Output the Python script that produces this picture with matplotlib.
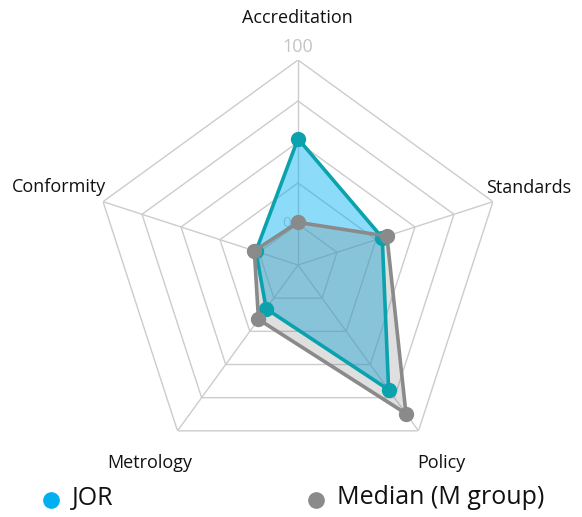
import numpy as np
import matplotlib
matplotlib.use("Agg")
import matplotlib.pyplot as plt

# Indicator scores on a -25..100 radial scale
categories = ["Accreditation", "Standards", "Policy", "Metrology", "Conformity"]
jor_values = [52, 29, 69, 8, 2]
median_values = [1, 32, 87, 16, 3]
ring_levels = [0, 25, 50, 75, 100]
r_min, r_max = -25, 100

plt.rcParams["font.family"] = ["Open Sans", "DejaVu Sans"]

W, H = 582, 517
fig = plt.figure(figsize=(W / 100, H / 100), dpi=100)
fig.patch.set_facecolor("white")

cx, cy, R = 298, 265, 205
ax = fig.add_axes([(cx - R) / W, (H - cy - R) / H, 2 * R / W, 2 * R / H],
                  projection="polar")
ax.set_theta_offset(np.pi / 2)
ax.set_theta_direction(-1)
ax.set_ylim(r_min, r_max)
ax.grid(False)
ax.spines["polar"].set_visible(False)
ax.set_xticks([])
ax.set_yticks([])
ax.patch.set_alpha(0)

n = len(categories)
angles = np.arange(n) * 2 * np.pi / n
closed = np.append(angles, angles[0])

grid_color = "#cccccc"
for lvl in ring_levels:
    ax.plot(closed, [lvl] * (n + 1), color=grid_color, lw=1, zorder=1)
for a in angles:
    ax.plot([a, a], [r_min, r_max], color=grid_color, lw=1, zorder=1)

# scale labels
ax.annotate("0", xy=(0, 0), xytext=(-8, 0), textcoords="offset points",
            ha="center", va="center", color="#c8c8c8", fontsize=11, zorder=1)
ax.annotate("100", xy=(0, 100), xytext=(0, 3), textcoords="offset points",
            ha="center", va="bottom", color="#c4c4c4", fontsize=13)

jor_fill = "#00b0f0"
jor_line = "#0aa3ad"
med_color = "#8a8a8a"

jv = np.append(jor_values, jor_values[0])
mv = np.append(median_values, median_values[0])

ax.fill(closed, jv, color=jor_fill, alpha=0.45, lw=0, zorder=2)
ax.fill(closed, mv, color="#808080", alpha=0.25, lw=0, zorder=3)
ax.plot(closed, jv, color=jor_line, lw=2.6, zorder=4)
ax.plot(angles, jor_values, "o", color=jor_line, ms=10, zorder=5)
ax.plot(closed, mv, color=med_color, lw=2.6, zorder=6)
ax.plot(angles, median_values, "o", color=med_color, ms=10, zorder=7)

# category labels
def px(x, y):
    return x / W, 1 - y / H

label_pos = {
    "Accreditation": (297, 18, "center"),
    "Standards": (486, 188, "left"),
    "Policy": (441, 463, "center"),
    "Metrology": (150, 463, "center"),
    "Conformity": (106, 187, "right"),
}
for name in categories:
    x, y, ha = label_pos[name]
    fx, fy = px(x, y)
    fig.text(fx, fy, name, ha=ha, va="center", fontsize=13, color="#111111")

# legend
for (x, label, col) in [(51, "JOR", jor_fill), (316, "Median (M group)", med_color)]:
    fx, fy = px(x, 500)
    fig.lines.append(plt.Line2D([fx], [fy], marker="o", ms=11, color=col,
                                transform=fig.transFigure, figure=fig))
    tx, ty = px(x + 21, 498)
    fig.text(tx, ty, label, ha="left", va="center", fontsize=18, color="#111111")

fig.savefig("out.png", dpi=100, facecolor="white")
